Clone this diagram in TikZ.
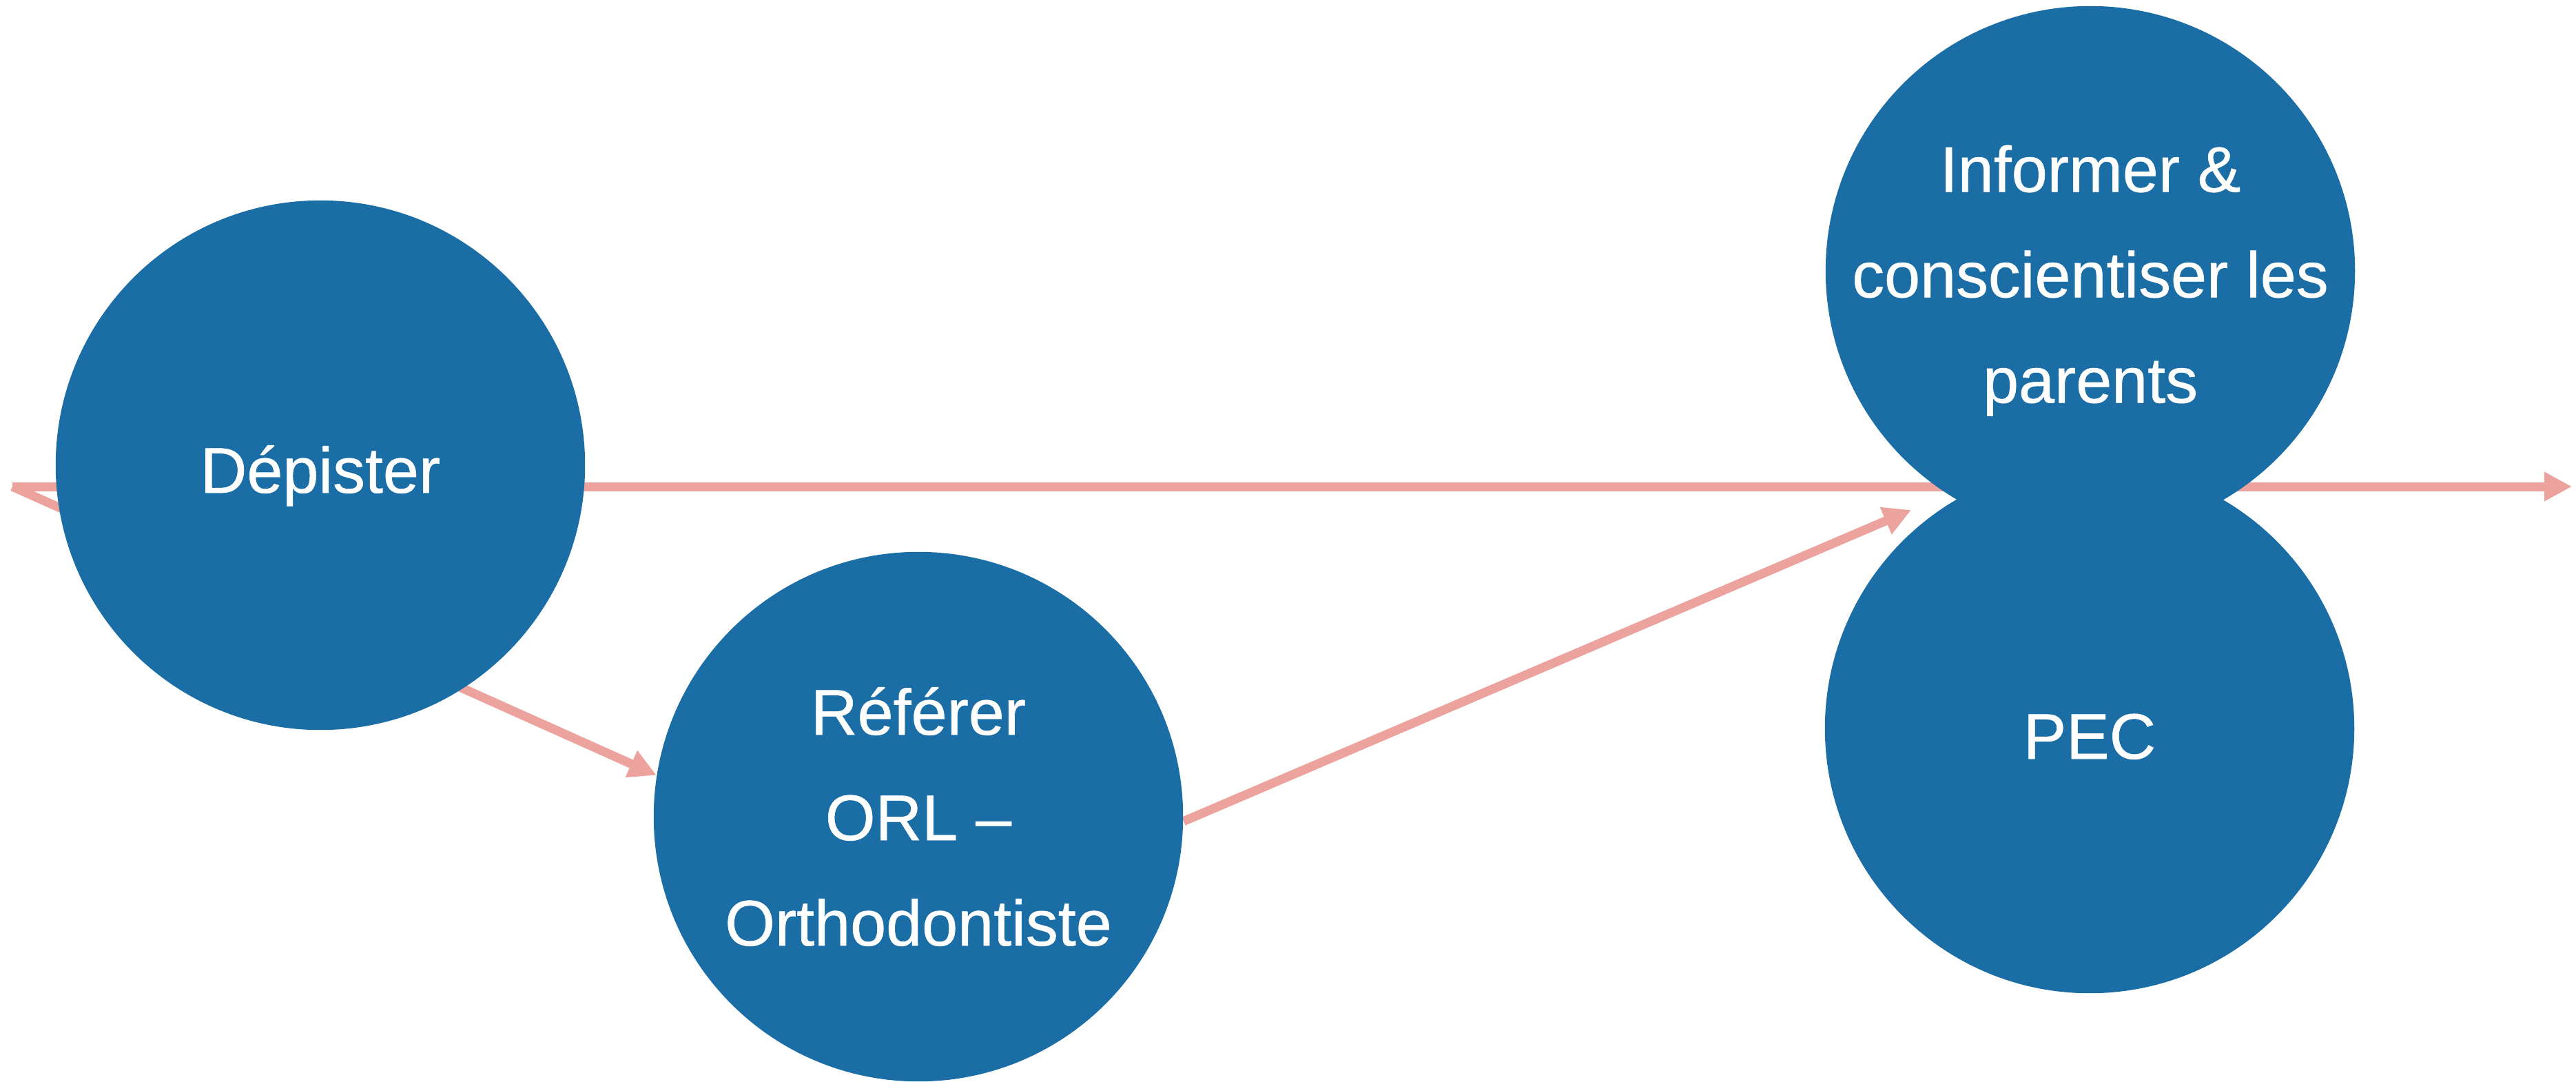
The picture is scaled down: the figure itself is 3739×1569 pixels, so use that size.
\documentclass[tikz,border=0pt]{standalone}
\usepackage{fontspec}
\setmainfont{Liberation Sans}
\newfontfamily\stagefont{Liberation Sans}[FakeBold=0.6]
\usetikzlibrary{arrows.meta}
\definecolor{nodeblue}{RGB}{27,110,165}
\definecolor{linkpink}{RGB}{236,163,157}
\pgfdeclarelayer{bg}
\pgfsetlayers{bg,main}
\begin{document}
\begin{tikzpicture}[x=0.01cm,y=-0.01cm,
  stage/.style={circle, fill=nodeblue, text=white, minimum size=7.68cm, inner sep=-2cm, align=center, font=\stagefont\fontsize{26.6pt}{43.5pt}\selectfont},
  link/.style={draw=linkpink, line width=3.7pt, -{Triangle[length=0.4cm,width=0.4cm]}}]
\useasboundingbox (0,0) rectangle (3739,1569);
\node[stage, text height=0.8cm, text depth=0cm] (dep) at (465,675) {Dépister};
\node[stage] (ref) at (1333,1185) {Référer\\ORL –\\Orthodontiste};
\node[stage, text height=0.88cm, text depth=0cm] (pec) at (3033,1057) {PEC};
\node[stage] (inf) at (3034,393) {\rule{0pt}{0.96cm}Informer \&\\conscientiser les\\parents};
\coordinate (start) at (18,706);
\coordinate (end) at (3733,706);
\coordinate (mid) at (2774,740);
\begin{pgfonlayer}{bg}
\draw[link] (start) -- (end);
\draw[link] (start) -- (ref.171.7);
\draw[link] (ref.-1) -- (mid);
\end{pgfonlayer}
\end{tikzpicture}
\end{document}
